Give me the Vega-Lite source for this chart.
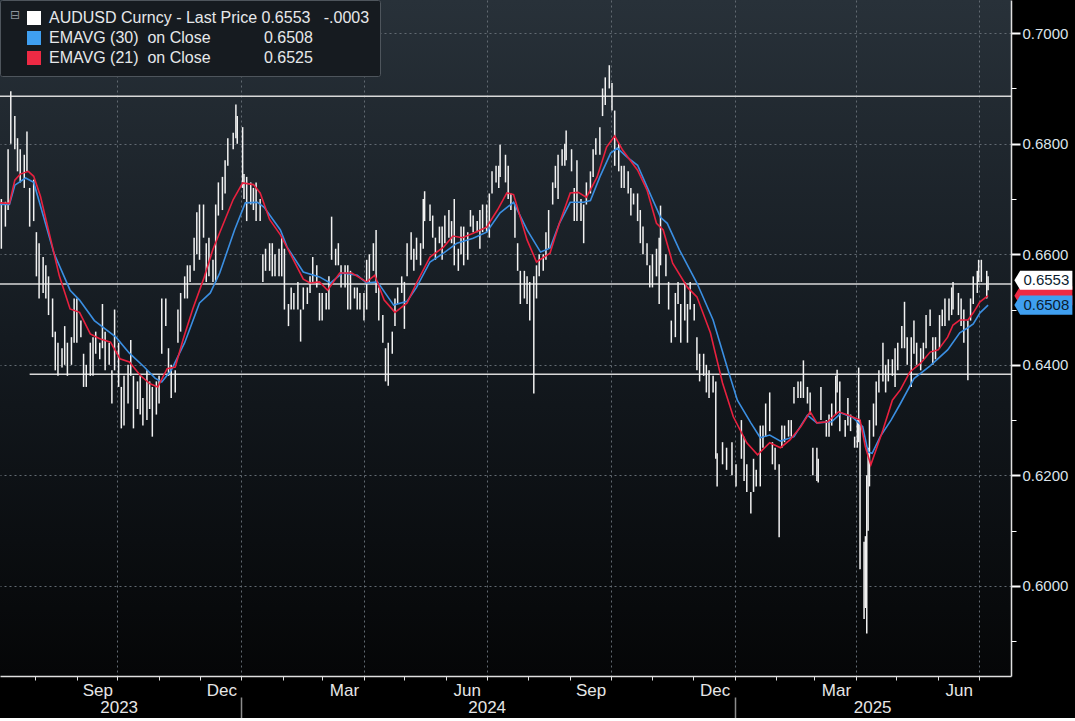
{
"$schema":"https://vega.github.io/schema/vega-lite/v6.json",
"width":1011,"height":676,
"autosize":{"type":"none"},
"padding":{"left":0,"top":0,"right":64,"bottom":42},
"background":"#000000",
"config":{
 "view":{"stroke":null,"fill":{"gradient":"linear","x1":0,"y1":0,"x2":0,"y2":1,"stops":[{"offset":0,"color":"#283139"},{"offset":0.5,"color":"#141a20"},{"offset":1,"color":"#050607"}]}}
},
"datasets":{
"levels":[{"v":0.6886,"a":"2023-07-06","b":"2025-07-25"},{"v":0.6546,"a":"2023-07-06","b":"2025-07-25"},{"v":0.6383,"a":"2023-07-28","b":"2025-07-25"}],
"tags":[{"s":"EMAVG (21)","v":0.6525},{"s":"AUDUSD Curncy","v":0.6553},{"s":"EMAVG (30)","v":0.6508}],
"bars":[
{"d":"2023-07-07","h":0.6700,"l":0.6610},{"d":"2023-07-10","h":0.6695,"l":0.6650},{"d":"2023-07-12","h":0.6790,"l":0.6680},{"d":"2023-07-14","h":0.6895,"l":0.6800},
{"d":"2023-07-17","h":0.6850,"l":0.6790},{"d":"2023-07-19","h":0.6810,"l":0.6750},{"d":"2023-07-21","h":0.6790,"l":0.6730},{"d":"2023-07-24","h":0.6780,"l":0.6720},
{"d":"2023-07-26","h":0.6822,"l":0.6750},{"d":"2023-07-28","h":0.6720,"l":0.6650},{"d":"2023-07-31","h":0.6735,"l":0.6660},{"d":"2023-08-02","h":0.6640,"l":0.6560},
{"d":"2023-08-04","h":0.6620,"l":0.6520},{"d":"2023-08-07","h":0.6595,"l":0.6530},{"d":"2023-08-09","h":0.6580,"l":0.6520},{"d":"2023-08-11","h":0.6560,"l":0.6490},
{"d":"2023-08-14","h":0.6520,"l":0.6450},{"d":"2023-08-16","h":0.6460,"l":0.6390},{"d":"2023-08-18","h":0.6440,"l":0.6380},{"d":"2023-08-21","h":0.6430,"l":0.6395},
{"d":"2023-08-23","h":0.6470,"l":0.6400},{"d":"2023-08-25","h":0.6440,"l":0.6380},{"d":"2023-08-28","h":0.6450,"l":0.6400},{"d":"2023-08-30","h":0.6520,"l":0.6440},
{"d":"2023-09-01","h":0.6520,"l":0.6440},{"d":"2023-09-04","h":0.6480,"l":0.6450},{"d":"2023-09-06","h":0.6420,"l":0.6360},{"d":"2023-09-08","h":0.6400,"l":0.6360},
{"d":"2023-09-11","h":0.6440,"l":0.6380},{"d":"2023-09-13","h":0.6450,"l":0.6380},{"d":"2023-09-15","h":0.6460,"l":0.6420},{"d":"2023-09-18","h":0.6440,"l":0.6410},
{"d":"2023-09-20","h":0.6510,"l":0.6430},{"d":"2023-09-22","h":0.6460,"l":0.6390},{"d":"2023-09-25","h":0.6440,"l":0.6400},{"d":"2023-09-27","h":0.6390,"l":0.6330},
{"d":"2023-09-29","h":0.6500,"l":0.6390},{"d":"2023-10-02","h":0.6440,"l":0.6360},{"d":"2023-10-04","h":0.6360,"l":0.6285},{"d":"2023-10-06","h":0.6380,"l":0.6290},
{"d":"2023-10-09","h":0.6400,"l":0.6330},{"d":"2023-10-11","h":0.6445,"l":0.6380},{"d":"2023-10-13","h":0.6380,"l":0.6285},{"d":"2023-10-16","h":0.6370,"l":0.6320},
{"d":"2023-10-18","h":0.6380,"l":0.6310},{"d":"2023-10-20","h":0.6340,"l":0.6290},{"d":"2023-10-23","h":0.6390,"l":0.6300},{"d":"2023-10-25","h":0.6370,"l":0.6320},
{"d":"2023-10-27","h":0.6360,"l":0.6270},{"d":"2023-10-30","h":0.6370,"l":0.6310},{"d":"2023-11-01","h":0.6380,"l":0.6330},{"d":"2023-11-03","h":0.6520,"l":0.6420},
{"d":"2023-11-06","h":0.6520,"l":0.6470},{"d":"2023-11-08","h":0.6430,"l":0.6380},{"d":"2023-11-10","h":0.6400,"l":0.6340},{"d":"2023-11-13","h":0.6390,"l":0.6350},
{"d":"2023-11-15","h":0.6500,"l":0.6440},{"d":"2023-11-17","h":0.6530,"l":0.6460},{"d":"2023-11-20","h":0.6560,"l":0.6520},{"d":"2023-11-22","h":0.6580,"l":0.6520},
{"d":"2023-11-24","h":0.6580,"l":0.6550},{"d":"2023-11-27","h":0.6630,"l":0.6570},{"d":"2023-11-29","h":0.6676,"l":0.6600},{"d":"2023-12-01","h":0.6690,"l":0.6590},
{"d":"2023-12-04","h":0.6690,"l":0.6630},{"d":"2023-12-06","h":0.6620,"l":0.6550},{"d":"2023-12-08","h":0.6630,"l":0.6560},{"d":"2023-12-11","h":0.6590,"l":0.6550},
{"d":"2023-12-13","h":0.6690,"l":0.6550},{"d":"2023-12-15","h":0.6730,"l":0.6670},{"d":"2023-12-18","h":0.6740,"l":0.6680},{"d":"2023-12-20","h":0.6770,"l":0.6710},
{"d":"2023-12-22","h":0.6810,"l":0.6760},{"d":"2023-12-26","h":0.6820,"l":0.6790},{"d":"2023-12-28","h":0.6871,"l":0.6810},{"d":"2023-12-29","h":0.6850,"l":0.6800},
{"d":"2024-01-02","h":0.6830,"l":0.6720},{"d":"2024-01-03","h":0.6745,"l":0.6700},{"d":"2024-01-05","h":0.6740,"l":0.6660},{"d":"2024-01-08","h":0.6730,"l":0.6690},
{"d":"2024-01-10","h":0.6720,"l":0.6680},{"d":"2024-01-12","h":0.6730,"l":0.6660},{"d":"2024-01-15","h":0.6700,"l":0.6660},{"d":"2024-01-17","h":0.6600,"l":0.6550},
{"d":"2024-01-19","h":0.6610,"l":0.6570},{"d":"2024-01-22","h":0.6620,"l":0.6570},{"d":"2024-01-24","h":0.6620,"l":0.6560},{"d":"2024-01-26","h":0.6600,"l":0.6560},
{"d":"2024-01-29","h":0.6610,"l":0.6560},{"d":"2024-01-31","h":0.6630,"l":0.6560},{"d":"2024-02-02","h":0.6610,"l":0.6500},{"d":"2024-02-05","h":0.6510,"l":0.6470},
{"d":"2024-02-07","h":0.6540,"l":0.6500},{"d":"2024-02-09","h":0.6530,"l":0.6500},{"d":"2024-02-12","h":0.6550,"l":0.6500},{"d":"2024-02-14","h":0.6500,"l":0.6442},
{"d":"2024-02-16","h":0.6540,"l":0.6500},{"d":"2024-02-19","h":0.6540,"l":0.6510},{"d":"2024-02-21","h":0.6560,"l":0.6530},{"d":"2024-02-23","h":0.6595,"l":0.6550},
{"d":"2024-02-26","h":0.6580,"l":0.6540},{"d":"2024-02-28","h":0.6530,"l":0.6480},{"d":"2024-03-01","h":0.6530,"l":0.6480},{"d":"2024-03-04","h":0.6530,"l":0.6500},
{"d":"2024-03-06","h":0.6560,"l":0.6500},{"d":"2024-03-08","h":0.6668,"l":0.6590},{"d":"2024-03-11","h":0.6610,"l":0.6580},{"d":"2024-03-13","h":0.6620,"l":0.6580},
{"d":"2024-03-15","h":0.6580,"l":0.6540},{"d":"2024-03-18","h":0.6580,"l":0.6540},{"d":"2024-03-20","h":0.6580,"l":0.6500},{"d":"2024-03-22","h":0.6570,"l":0.6500},
{"d":"2024-03-25","h":0.6540,"l":0.6520},{"d":"2024-03-27","h":0.6540,"l":0.6500},{"d":"2024-03-29","h":0.6530,"l":0.6500},{"d":"2024-04-01","h":0.6530,"l":0.6480},
{"d":"2024-04-03","h":0.6590,"l":0.6500},{"d":"2024-04-05","h":0.6600,"l":0.6550},{"d":"2024-04-08","h":0.6620,"l":0.6570},{"d":"2024-04-10","h":0.6644,"l":0.6530},
{"d":"2024-04-12","h":0.6540,"l":0.6480},{"d":"2024-04-15","h":0.6490,"l":0.6440},{"d":"2024-04-17","h":0.6430,"l":0.6370},{"d":"2024-04-19","h":0.6440,"l":0.6362},
{"d":"2024-04-22","h":0.6460,"l":0.6420},{"d":"2024-04-24","h":0.6520,"l":0.6470},{"d":"2024-04-26","h":0.6540,"l":0.6510},{"d":"2024-04-29","h":0.6560,"l":0.6530},
{"d":"2024-05-01","h":0.6550,"l":0.6465},{"d":"2024-05-03","h":0.6620,"l":0.6560},{"d":"2024-05-06","h":0.6640,"l":0.6590},{"d":"2024-05-08","h":0.6610,"l":0.6570},
{"d":"2024-05-10","h":0.6630,"l":0.6590},{"d":"2024-05-13","h":0.6620,"l":0.6580},{"d":"2024-05-15","h":0.6700,"l":0.6610},{"d":"2024-05-16","h":0.6714,"l":0.6660},
{"d":"2024-05-20","h":0.6690,"l":0.6660},{"d":"2024-05-22","h":0.6670,"l":0.6630},{"d":"2024-05-24","h":0.6630,"l":0.6590},{"d":"2024-05-27","h":0.6650,"l":0.6620},
{"d":"2024-05-29","h":0.6650,"l":0.6590},{"d":"2024-05-31","h":0.6670,"l":0.6620},{"d":"2024-06-03","h":0.6680,"l":0.6630},{"d":"2024-06-05","h":0.6660,"l":0.6620},
{"d":"2024-06-07","h":0.6700,"l":0.6580},{"d":"2024-06-10","h":0.6610,"l":0.6570},{"d":"2024-06-12","h":0.6650,"l":0.6600},{"d":"2024-06-14","h":0.6650,"l":0.6580},
{"d":"2024-06-17","h":0.6640,"l":0.6590},{"d":"2024-06-19","h":0.6680,"l":0.6650},{"d":"2024-06-21","h":0.6670,"l":0.6640},{"d":"2024-06-24","h":0.6660,"l":0.6640},
{"d":"2024-06-26","h":0.6680,"l":0.6610},{"d":"2024-06-28","h":0.6690,"l":0.6640},{"d":"2024-07-01","h":0.6690,"l":0.6640},{"d":"2024-07-03","h":0.6710,"l":0.6630},
{"d":"2024-07-05","h":0.6750,"l":0.6710},{"d":"2024-07-08","h":0.6760,"l":0.6730},{"d":"2024-07-10","h":0.6760,"l":0.6720},{"d":"2024-07-11","h":0.6798,"l":0.6740},
{"d":"2024-07-15","h":0.6780,"l":0.6730},{"d":"2024-07-17","h":0.6760,"l":0.6700},{"d":"2024-07-19","h":0.6710,"l":0.6680},{"d":"2024-07-22","h":0.6690,"l":0.6630},
{"d":"2024-07-24","h":0.6620,"l":0.6570},{"d":"2024-07-26","h":0.6570,"l":0.6510},{"d":"2024-07-29","h":0.6570,"l":0.6520},{"d":"2024-07-31","h":0.6560,"l":0.6510},
{"d":"2024-08-02","h":0.6550,"l":0.6480},{"d":"2024-08-05","h":0.6560,"l":0.6348},{"d":"2024-08-07","h":0.6580,"l":0.6520},{"d":"2024-08-09","h":0.6600,"l":0.6560},
{"d":"2024-08-12","h":0.6600,"l":0.6570},{"d":"2024-08-14","h":0.6640,"l":0.6590},{"d":"2024-08-16","h":0.6680,"l":0.6610},{"d":"2024-08-19","h":0.6730,"l":0.6690},
{"d":"2024-08-21","h":0.6760,"l":0.6720},{"d":"2024-08-23","h":0.6780,"l":0.6700},{"d":"2024-08-26","h":0.6790,"l":0.6760},{"d":"2024-08-28","h":0.6800,"l":0.6760},
{"d":"2024-08-29","h":0.6824,"l":0.6770},{"d":"2024-09-02","h":0.6790,"l":0.6750},{"d":"2024-09-04","h":0.6720,"l":0.6660},{"d":"2024-09-06","h":0.6770,"l":0.6660},
{"d":"2024-09-09","h":0.6700,"l":0.6660},{"d":"2024-09-11","h":0.6690,"l":0.6620},{"d":"2024-09-13","h":0.6730,"l":0.6690},{"d":"2024-09-16","h":0.6750,"l":0.6710},
{"d":"2024-09-18","h":0.6790,"l":0.6740},{"d":"2024-09-20","h":0.6810,"l":0.6780},{"d":"2024-09-23","h":0.6830,"l":0.6780},{"d":"2024-09-25","h":0.6900,"l":0.6850},
{"d":"2024-09-27","h":0.6920,"l":0.6870},{"d":"2024-09-30","h":0.6942,"l":0.6900},{"d":"2024-10-02","h":0.6910,"l":0.6860},{"d":"2024-10-04","h":0.6860,"l":0.6760},
{"d":"2024-10-07","h":0.6800,"l":0.6750},{"d":"2024-10-09","h":0.6760,"l":0.6720},{"d":"2024-10-11","h":0.6760,"l":0.6720},{"d":"2024-10-14","h":0.6750,"l":0.6710},
{"d":"2024-10-16","h":0.6720,"l":0.6670},{"d":"2024-10-18","h":0.6710,"l":0.6690},{"d":"2024-10-21","h":0.6710,"l":0.6660},{"d":"2024-10-23","h":0.6680,"l":0.6620},
{"d":"2024-10-25","h":0.6650,"l":0.6600},{"d":"2024-10-28","h":0.6620,"l":0.6580},{"d":"2024-10-30","h":0.6580,"l":0.6540},{"d":"2024-11-01","h":0.6600,"l":0.6540},
{"d":"2024-11-04","h":0.6610,"l":0.6560},{"d":"2024-11-06","h":0.6630,"l":0.6510},{"d":"2024-11-07","h":0.6688,"l":0.6580},{"d":"2024-11-11","h":0.6600,"l":0.6560},
{"d":"2024-11-13","h":0.6550,"l":0.6500},{"d":"2024-11-15","h":0.6480,"l":0.6440},{"d":"2024-11-18","h":0.6530,"l":0.6450},{"d":"2024-11-20","h":0.6550,"l":0.6510},
{"d":"2024-11-22","h":0.6510,"l":0.6440},{"d":"2024-11-25","h":0.6550,"l":0.6480},{"d":"2024-11-27","h":0.6510,"l":0.6440},{"d":"2024-11-29","h":0.6550,"l":0.6500},
{"d":"2024-12-02","h":0.6510,"l":0.6480},{"d":"2024-12-04","h":0.6450,"l":0.6390},{"d":"2024-12-06","h":0.6420,"l":0.6370},{"d":"2024-12-09","h":0.6420,"l":0.6380},
{"d":"2024-12-11","h":0.6400,"l":0.6350},{"d":"2024-12-13","h":0.6390,"l":0.6340},{"d":"2024-12-16","h":0.6380,"l":0.6350},{"d":"2024-12-18","h":0.6370,"l":0.6230},
{"d":"2024-12-19","h":0.6240,"l":0.6180},{"d":"2024-12-23","h":0.6260,"l":0.6220},{"d":"2024-12-26","h":0.6250,"l":0.6210},{"d":"2024-12-30","h":0.6260,"l":0.6200},
{"d":"2025-01-02","h":0.6220,"l":0.6180},{"d":"2025-01-06","h":0.6300,"l":0.6230},{"d":"2025-01-08","h":0.6270,"l":0.6190},{"d":"2025-01-10","h":0.6220,"l":0.6170},
{"d":"2025-01-13","h":0.6170,"l":0.6131},{"d":"2025-01-15","h":0.6230,"l":0.6170},{"d":"2025-01-17","h":0.6210,"l":0.6180},{"d":"2025-01-20","h":0.6290,"l":0.6180},
{"d":"2025-01-22","h":0.6290,"l":0.6250},{"d":"2025-01-24","h":0.6330,"l":0.6270},{"d":"2025-01-27","h":0.6350,"l":0.6280},{"d":"2025-01-29","h":0.6260,"l":0.6220},
{"d":"2025-01-31","h":0.6250,"l":0.6210},{"d":"2025-02-03","h":0.6220,"l":0.6088},{"d":"2025-02-05","h":0.6290,"l":0.6250},{"d":"2025-02-07","h":0.6290,"l":0.6260},
{"d":"2025-02-10","h":0.6300,"l":0.6270},{"d":"2025-02-12","h":0.6300,"l":0.6270},{"d":"2025-02-14","h":0.6360,"l":0.6330},{"d":"2025-02-17","h":0.6370,"l":0.6340},
{"d":"2025-02-19","h":0.6370,"l":0.6340},{"d":"2025-02-21","h":0.6408,"l":0.6340},{"d":"2025-02-24","h":0.6360,"l":0.6330},{"d":"2025-02-26","h":0.6350,"l":0.6310},
{"d":"2025-02-28","h":0.6250,"l":0.6200},{"d":"2025-03-03","h":0.6250,"l":0.6190},{"d":"2025-03-04","h":0.6230,"l":0.6187},{"d":"2025-03-06","h":0.6360,"l":0.6300},
{"d":"2025-03-10","h":0.6300,"l":0.6270},{"d":"2025-03-12","h":0.6310,"l":0.6270},{"d":"2025-03-14","h":0.6330,"l":0.6290},{"d":"2025-03-17","h":0.6380,"l":0.6310},
{"d":"2025-03-18","h":0.6391,"l":0.6350},{"d":"2025-03-20","h":0.6370,"l":0.6280},{"d":"2025-03-24","h":0.6300,"l":0.6270},{"d":"2025-03-26","h":0.6340,"l":0.6290},
{"d":"2025-03-28","h":0.6310,"l":0.6280},{"d":"2025-03-31","h":0.6270,"l":0.6250},{"d":"2025-04-02","h":0.6300,"l":0.6250},{"d":"2025-04-03","h":0.6395,"l":0.6260},
{"d":"2025-04-04","h":0.6300,"l":0.6030},{"d":"2025-04-07","h":0.6080,"l":0.5940},{"d":"2025-04-08","h":0.6090,"l":0.5960},{"d":"2025-04-09","h":0.6200,"l":0.5914},
{"d":"2025-04-10","h":0.6250,"l":0.6100},{"d":"2025-04-11","h":0.6300,"l":0.6180},{"d":"2025-04-14","h":0.6330,"l":0.6270},{"d":"2025-04-16","h":0.6370,"l":0.6290},
{"d":"2025-04-18","h":0.6390,"l":0.6350},{"d":"2025-04-21","h":0.6440,"l":0.6370},{"d":"2025-04-23","h":0.6400,"l":0.6350},{"d":"2025-04-25","h":0.6410,"l":0.6370},
{"d":"2025-04-28","h":0.6410,"l":0.6380},{"d":"2025-04-30","h":0.6430,"l":0.6360},{"d":"2025-05-02","h":0.6440,"l":0.6390},{"d":"2025-05-05","h":0.6470,"l":0.6430},
{"d":"2025-05-07","h":0.6514,"l":0.6430},{"d":"2025-05-09","h":0.6450,"l":0.6400},{"d":"2025-05-12","h":0.6450,"l":0.6360},{"d":"2025-05-14","h":0.6480,"l":0.6420},
{"d":"2025-05-16","h":0.6440,"l":0.6400},{"d":"2025-05-19","h":0.6430,"l":0.6390},{"d":"2025-05-21","h":0.6440,"l":0.6410},{"d":"2025-05-23","h":0.6490,"l":0.6430},
{"d":"2025-05-26","h":0.6500,"l":0.6470},{"d":"2025-05-28","h":0.6450,"l":0.6400},{"d":"2025-05-30","h":0.6450,"l":0.6410},{"d":"2025-06-02","h":0.6490,"l":0.6430},
{"d":"2025-06-04","h":0.6500,"l":0.6470},{"d":"2025-06-06","h":0.6520,"l":0.6470},{"d":"2025-06-09","h":0.6520,"l":0.6480},{"d":"2025-06-11","h":0.6540,"l":0.6490},
{"d":"2025-06-12","h":0.6550,"l":0.6500},{"d":"2025-06-16","h":0.6530,"l":0.6490},{"d":"2025-06-18","h":0.6520,"l":0.6470},{"d":"2025-06-20","h":0.6500,"l":0.6440},
{"d":"2025-06-23","h":0.6480,"l":0.6372},{"d":"2025-06-25","h":0.6520,"l":0.6480},{"d":"2025-06-27","h":0.6560,"l":0.6510},{"d":"2025-06-30","h":0.6570,"l":0.6530},
{"d":"2025-07-01","h":0.6590,"l":0.6550},{"d":"2025-07-03","h":0.6590,"l":0.6550},{"d":"2025-07-07","h":0.6570,"l":0.6520},{"d":"2025-07-08","h":0.6560,"l":0.6535}
],
"ema":[
{"s":"EMAVG (30)","d":"2023-07-06","v":0.6690},{"s":"EMAVG (30)","d":"2023-07-13","v":0.6690},{"s":"EMAVG (30)","d":"2023-07-17","v":0.6725},{"s":"EMAVG (30)","d":"2023-07-25","v":0.6738},
{"s":"EMAVG (30)","d":"2023-07-31","v":0.6730},{"s":"EMAVG (30)","d":"2023-08-08","v":0.6662},{"s":"EMAVG (30)","d":"2023-08-15","v":0.6602},{"s":"EMAVG (30)","d":"2023-08-27","v":0.6535},
{"s":"EMAVG (30)","d":"2023-09-03","v":0.6517},{"s":"EMAVG (30)","d":"2023-09-14","v":0.6480},{"s":"EMAVG (30)","d":"2023-09-30","v":0.6450},{"s":"EMAVG (30)","d":"2023-10-10","v":0.6421},
{"s":"EMAVG (30)","d":"2023-10-21","v":0.6396},{"s":"EMAVG (30)","d":"2023-10-29","v":0.6376},{"s":"EMAVG (30)","d":"2023-11-03","v":0.6369},{"s":"EMAVG (30)","d":"2023-11-10","v":0.6390},
{"s":"EMAVG (30)","d":"2023-11-20","v":0.6440},{"s":"EMAVG (30)","d":"2023-12-01","v":0.6512},{"s":"EMAVG (30)","d":"2023-12-09","v":0.6530},{"s":"EMAVG (30)","d":"2023-12-16","v":0.6566},
{"s":"EMAVG (30)","d":"2023-12-27","v":0.6644},{"s":"EMAVG (30)","d":"2024-01-04","v":0.6693},{"s":"EMAVG (30)","d":"2024-01-13","v":0.6694},{"s":"EMAVG (30)","d":"2024-01-18","v":0.6685},
{"s":"EMAVG (30)","d":"2024-01-30","v":0.6644},{"s":"EMAVG (30)","d":"2024-02-04","v":0.6613},{"s":"EMAVG (30)","d":"2024-02-16","v":0.6568},{"s":"EMAVG (30)","d":"2024-02-28","v":0.6559},
{"s":"EMAVG (30)","d":"2024-03-07","v":0.6548},{"s":"EMAVG (30)","d":"2024-03-16","v":0.6566},{"s":"EMAVG (30)","d":"2024-03-27","v":0.6562},{"s":"EMAVG (30)","d":"2024-04-03","v":0.6548},
{"s":"EMAVG (30)","d":"2024-04-11","v":0.6550},{"s":"EMAVG (30)","d":"2024-04-23","v":0.6508},{"s":"EMAVG (30)","d":"2024-05-03","v":0.6515},{"s":"EMAVG (30)","d":"2024-05-10","v":0.6540},
{"s":"EMAVG (30)","d":"2024-05-20","v":0.6586},{"s":"EMAVG (30)","d":"2024-05-30","v":0.6602},{"s":"EMAVG (30)","d":"2024-06-09","v":0.6620},{"s":"EMAVG (30)","d":"2024-06-21","v":0.6629},
{"s":"EMAVG (30)","d":"2024-07-01","v":0.6640},{"s":"EMAVG (30)","d":"2024-07-11","v":0.6675},{"s":"EMAVG (30)","d":"2024-07-21","v":0.6694},{"s":"EMAVG (30)","d":"2024-07-31","v":0.6644},
{"s":"EMAVG (30)","d":"2024-08-10","v":0.6604},{"s":"EMAVG (30)","d":"2024-08-17","v":0.6611},{"s":"EMAVG (30)","d":"2024-08-24","v":0.6656},{"s":"EMAVG (30)","d":"2024-09-01","v":0.6694},
{"s":"EMAVG (30)","d":"2024-09-11","v":0.6694},{"s":"EMAVG (30)","d":"2024-09-16","v":0.6697},{"s":"EMAVG (30)","d":"2024-09-23","v":0.6740},{"s":"EMAVG (30)","d":"2024-10-01","v":0.6783},
{"s":"EMAVG (30)","d":"2024-10-06","v":0.6792},{"s":"EMAVG (30)","d":"2024-10-13","v":0.6776},{"s":"EMAVG (30)","d":"2024-10-21","v":0.6761},{"s":"EMAVG (30)","d":"2024-10-28","v":0.6722},
{"s":"EMAVG (30)","d":"2024-11-07","v":0.6667},{"s":"EMAVG (30)","d":"2024-11-12","v":0.6656},{"s":"EMAVG (30)","d":"2024-11-21","v":0.6608},{"s":"EMAVG (30)","d":"2024-12-04","v":0.6548},
{"s":"EMAVG (30)","d":"2024-12-16","v":0.6481},{"s":"EMAVG (30)","d":"2024-12-27","v":0.6391},{"s":"EMAVG (30)","d":"2025-01-03","v":0.6336},{"s":"EMAVG (30)","d":"2025-01-13","v":0.6295},
{"s":"EMAVG (30)","d":"2025-01-20","v":0.6268},{"s":"EMAVG (30)","d":"2025-01-27","v":0.6273},{"s":"EMAVG (30)","d":"2025-02-04","v":0.6262},{"s":"EMAVG (30)","d":"2025-02-14","v":0.6270},
{"s":"EMAVG (30)","d":"2025-02-24","v":0.6309},{"s":"EMAVG (30)","d":"2025-03-03","v":0.6295},{"s":"EMAVG (30)","d":"2025-03-14","v":0.6297},{"s":"EMAVG (30)","d":"2025-03-21","v":0.6313},
{"s":"EMAVG (30)","d":"2025-03-30","v":0.6304},{"s":"EMAVG (30)","d":"2025-04-06","v":0.6288},{"s":"EMAVG (30)","d":"2025-04-10","v":0.6242},{"s":"EMAVG (30)","d":"2025-04-13","v":0.6240},
{"s":"EMAVG (30)","d":"2025-04-19","v":0.6270},{"s":"EMAVG (30)","d":"2025-04-27","v":0.6300},{"s":"EMAVG (30)","d":"2025-05-04","v":0.6330},{"s":"EMAVG (30)","d":"2025-05-14","v":0.6375},
{"s":"EMAVG (30)","d":"2025-05-26","v":0.6398},{"s":"EMAVG (30)","d":"2025-06-08","v":0.6427},{"s":"EMAVG (30)","d":"2025-06-17","v":0.6458},{"s":"EMAVG (30)","d":"2025-06-23","v":0.6467},
{"s":"EMAVG (30)","d":"2025-06-27","v":0.6474},{"s":"EMAVG (30)","d":"2025-07-02","v":0.6494},{"s":"EMAVG (30)","d":"2025-07-08","v":0.6508},
{"s":"EMAVG (21)","d":"2023-07-06","v":0.6693},{"s":"EMAVG (21)","d":"2023-07-13","v":0.6692},{"s":"EMAVG (21)","d":"2023-07-17","v":0.6734},{"s":"EMAVG (21)","d":"2023-07-21","v":0.6745},
{"s":"EMAVG (21)","d":"2023-07-27","v":0.6750},{"s":"EMAVG (21)","d":"2023-07-31","v":0.6741},{"s":"EMAVG (21)","d":"2023-08-05","v":0.6705},{"s":"EMAVG (21)","d":"2023-08-12","v":0.6633},
{"s":"EMAVG (21)","d":"2023-08-19","v":0.6561},{"s":"EMAVG (21)","d":"2023-08-27","v":0.6501},{"s":"EMAVG (21)","d":"2023-09-03","v":0.6495},{"s":"EMAVG (21)","d":"2023-09-11","v":0.6456},
{"s":"EMAVG (21)","d":"2023-09-18","v":0.6447},{"s":"EMAVG (21)","d":"2023-09-26","v":0.6441},{"s":"EMAVG (21)","d":"2023-10-03","v":0.6411},{"s":"EMAVG (21)","d":"2023-10-10","v":0.6405},
{"s":"EMAVG (21)","d":"2023-10-18","v":0.6381},{"s":"EMAVG (21)","d":"2023-10-25","v":0.6366},{"s":"EMAVG (21)","d":"2023-10-31","v":0.6360},{"s":"EMAVG (21)","d":"2023-11-07","v":0.6393},
{"s":"EMAVG (21)","d":"2023-11-13","v":0.6396},{"s":"EMAVG (21)","d":"2023-11-19","v":0.6447},{"s":"EMAVG (21)","d":"2023-11-26","v":0.6501},{"s":"EMAVG (21)","d":"2023-12-04","v":0.6555},
{"s":"EMAVG (21)","d":"2023-12-11","v":0.6609},{"s":"EMAVG (21)","d":"2023-12-18","v":0.6651},{"s":"EMAVG (21)","d":"2023-12-26","v":0.6699},{"s":"EMAVG (21)","d":"2024-01-02","v":0.6729},
{"s":"EMAVG (21)","d":"2024-01-10","v":0.6726},{"s":"EMAVG (21)","d":"2024-01-15","v":0.6711},{"s":"EMAVG (21)","d":"2024-01-22","v":0.6663},{"s":"EMAVG (21)","d":"2024-01-30","v":0.6635},
{"s":"EMAVG (21)","d":"2024-02-04","v":0.6612},{"s":"EMAVG (21)","d":"2024-02-16","v":0.6555},{"s":"EMAVG (21)","d":"2024-02-21","v":0.6548},{"s":"EMAVG (21)","d":"2024-02-28","v":0.6550},
{"s":"EMAVG (21)","d":"2024-03-05","v":0.6535},{"s":"EMAVG (21)","d":"2024-03-14","v":0.6566},{"s":"EMAVG (21)","d":"2024-03-23","v":0.6566},{"s":"EMAVG (21)","d":"2024-04-03","v":0.6550},
{"s":"EMAVG (21)","d":"2024-04-09","v":0.6562},{"s":"EMAVG (21)","d":"2024-04-16","v":0.6517},{"s":"EMAVG (21)","d":"2024-04-24","v":0.6495},{"s":"EMAVG (21)","d":"2024-05-03","v":0.6512},
{"s":"EMAVG (21)","d":"2024-05-10","v":0.6548},{"s":"EMAVG (21)","d":"2024-05-20","v":0.6595},{"s":"EMAVG (21)","d":"2024-05-30","v":0.6613},{"s":"EMAVG (21)","d":"2024-06-06","v":0.6633},
{"s":"EMAVG (21)","d":"2024-06-13","v":0.6630},{"s":"EMAVG (21)","d":"2024-06-21","v":0.6638},{"s":"EMAVG (21)","d":"2024-07-01","v":0.6649},{"s":"EMAVG (21)","d":"2024-07-09","v":0.6680},
{"s":"EMAVG (21)","d":"2024-07-16","v":0.6711},{"s":"EMAVG (21)","d":"2024-07-21","v":0.6708},{"s":"EMAVG (21)","d":"2024-07-31","v":0.6626},{"s":"EMAVG (21)","d":"2024-08-07","v":0.6586},
{"s":"EMAVG (21)","d":"2024-08-17","v":0.6602},{"s":"EMAVG (21)","d":"2024-08-24","v":0.6656},{"s":"EMAVG (21)","d":"2024-09-01","v":0.6711},{"s":"EMAVG (21)","d":"2024-09-07","v":0.6712},
{"s":"EMAVG (21)","d":"2024-09-13","v":0.6703},{"s":"EMAVG (21)","d":"2024-09-21","v":0.6740},{"s":"EMAVG (21)","d":"2024-09-28","v":0.6794},{"s":"EMAVG (21)","d":"2024-10-04","v":0.6814},
{"s":"EMAVG (21)","d":"2024-10-10","v":0.6788},{"s":"EMAVG (21)","d":"2024-10-21","v":0.6752},{"s":"EMAVG (21)","d":"2024-10-28","v":0.6716},{"s":"EMAVG (21)","d":"2024-11-04","v":0.6656},
{"s":"EMAVG (21)","d":"2024-11-09","v":0.6644},{"s":"EMAVG (21)","d":"2024-11-16","v":0.6584},{"s":"EMAVG (21)","d":"2024-11-27","v":0.6540},{"s":"EMAVG (21)","d":"2024-12-04","v":0.6523},
{"s":"EMAVG (21)","d":"2024-12-14","v":0.6458},{"s":"EMAVG (21)","d":"2024-12-23","v":0.6367},{"s":"EMAVG (21)","d":"2024-12-31","v":0.6306},{"s":"EMAVG (21)","d":"2025-01-10","v":0.6259},
{"s":"EMAVG (21)","d":"2025-01-18","v":0.6237},{"s":"EMAVG (21)","d":"2025-01-27","v":0.6259},{"s":"EMAVG (21)","d":"2025-02-04","v":0.6250},{"s":"EMAVG (21)","d":"2025-02-11","v":0.6264},
{"s":"EMAVG (21)","d":"2025-02-19","v":0.6288},{"s":"EMAVG (21)","d":"2025-02-26","v":0.6315},{"s":"EMAVG (21)","d":"2025-03-03","v":0.6295},{"s":"EMAVG (21)","d":"2025-03-11","v":0.6297},
{"s":"EMAVG (21)","d":"2025-03-19","v":0.6315},{"s":"EMAVG (21)","d":"2025-03-26","v":0.6309},{"s":"EMAVG (21)","d":"2025-04-04","v":0.6300},{"s":"EMAVG (21)","d":"2025-04-08","v":0.6251},
{"s":"EMAVG (21)","d":"2025-04-12","v":0.6219},{"s":"EMAVG (21)","d":"2025-04-15","v":0.6240},{"s":"EMAVG (21)","d":"2025-04-21","v":0.6282},{"s":"EMAVG (21)","d":"2025-04-28","v":0.6336},
{"s":"EMAVG (21)","d":"2025-05-04","v":0.6355},{"s":"EMAVG (21)","d":"2025-05-11","v":0.6387},{"s":"EMAVG (21)","d":"2025-05-19","v":0.6403},{"s":"EMAVG (21)","d":"2025-05-26","v":0.6423},
{"s":"EMAVG (21)","d":"2025-06-01","v":0.6427},{"s":"EMAVG (21)","d":"2025-06-08","v":0.6450},{"s":"EMAVG (21)","d":"2025-06-12","v":0.6472},{"s":"EMAVG (21)","d":"2025-06-17","v":0.6481},
{"s":"EMAVG (21)","d":"2025-06-23","v":0.6481},{"s":"EMAVG (21)","d":"2025-06-27","v":0.6494},{"s":"EMAVG (21)","d":"2025-07-02","v":0.6514},{"s":"EMAVG (21)","d":"2025-07-08","v":0.6525}
]
},
"layer":[
{"data":{"name":"levels"},
 "mark":{"type":"rule","color":"#d9d9d9","strokeWidth":1.5},
 "encoding":{
  "x":{"field":"a","type":"temporal","scale":{"type":"utc","domain":[{"year":2023,"month":7,"date":6,"utc":true},{"year":2025,"month":7,"date":25,"utc":true}]},
   "axis":{"orient":"bottom","title":null,"values":[{"year":2024,"month":1,"date":1,"utc":true},{"year":2025,"month":1,"date":1,"utc":true}],"offset":21,"domain":false,"labels":false,"ticks":true,"tickSize":21,"tickColor":"#8c8c8c","tickWidth":1.5,"grid":false}},
  "x2":{"field":"b"},
  "y":{"field":"v","type":"quantitative","scale":{"domain":[0.5837,0.706],"nice":false,"zero":false},"axis":null}
 }},
{"data":{"name":"bars"},
 "mark":{"type":"rule","color":"#f2f2f2","strokeWidth":1.5},
 "encoding":{
  "x":{"field":"d","type":"temporal","scale":{"type":"utc","domain":[{"year":2023,"month":7,"date":6,"utc":true},{"year":2025,"month":7,"date":25,"utc":true}]},
   "axis":{"orient":"bottom","title":null,
    "values":[{"year":2023,"month":8,"date":1,"utc":true},{"year":2023,"month":9,"date":1,"utc":true},{"year":2023,"month":10,"date":1,"utc":true},{"year":2023,"month":11,"date":1,"utc":true},{"year":2023,"month":12,"date":1,"utc":true},
     {"year":2024,"month":1,"date":1,"utc":true},{"year":2024,"month":2,"date":1,"utc":true},{"year":2024,"month":3,"date":1,"utc":true},{"year":2024,"month":4,"date":1,"utc":true},{"year":2024,"month":5,"date":1,"utc":true},{"year":2024,"month":6,"date":1,"utc":true},
     {"year":2024,"month":7,"date":1,"utc":true},{"year":2024,"month":8,"date":1,"utc":true},{"year":2024,"month":9,"date":1,"utc":true},{"year":2024,"month":10,"date":1,"utc":true},{"year":2024,"month":11,"date":1,"utc":true},{"year":2024,"month":12,"date":1,"utc":true},
     {"year":2025,"month":1,"date":1,"utc":true},{"year":2025,"month":2,"date":1,"utc":true},{"year":2025,"month":3,"date":1,"utc":true},{"year":2025,"month":4,"date":1,"utc":true},{"year":2025,"month":5,"date":1,"utc":true},{"year":2025,"month":6,"date":1,"utc":true},{"year":2025,"month":7,"date":1,"utc":true}],
    "labelExpr":"utcmonth(datum.value) % 3 == 0 ? utcFormat(datum.value - 864000000, '%b') : ''",
    "labelOffset":-20,"labelPadding":2,"labelFont":"Liberation Sans Narrow, Liberation Sans, sans-serif","labelFontSize":17,"labelColor":"#e6e6e6",
    "labelOverlap":false,"labelBound":false,"labelFlush":false,
    "ticks":true,"tickSize":4,"tickColor":"#e0e0e0","tickWidth":1,
    "domain":true,"domainColor":"#e0e0e0","domainWidth":1.5,
    "grid":true,"gridColor":"#626a72","gridDash":[2,3],"gridWidth":1,
    "gridOpacity":{"condition":{"test":"utcmonth(datum.value) % 3 == 0","value":1},"value":0}}},
  "y":{"field":"l","type":"quantitative","scale":{"domain":[0.5837,0.706],"nice":false,"zero":false},
   "axis":{"orient":"right","title":null,"values":[0.6,0.62,0.64,0.66,0.68,0.7],"format":".4f",
    "labelFont":"Liberation Sans","labelFontSize":15,"labelColor":"#dce4eb","labelPadding":2,"labelBound":false,"labelOverlap":false,
    "domain":true,"domainColor":"#e0e0e0","domainWidth":1.5,"ticks":true,"tickColor":"#ffffff","tickSize":9,"tickWidth":2,
    "grid":true,"gridColor":"#626a72","gridDash":[2,3],"gridWidth":1}},
  "y2":{"field":"h"}
 }},
{"data":{"name":"ema"},
 "mark":{"type":"line","strokeWidth":1.6,"interpolate":"linear"},
 "encoding":{
  "x":{"field":"d","type":"temporal","scale":{"type":"utc","domain":[{"year":2023,"month":7,"date":6,"utc":true},{"year":2025,"month":7,"date":25,"utc":true}]},
   "axis":{"orient":"bottom","title":null,"values":[{"year":2023,"month":10,"date":2,"utc":true},{"year":2024,"month":7,"date":1,"utc":true},{"year":2025,"month":4,"date":13,"utc":true}],
    "labelExpr":"utcFormat(datum.value, '%Y')","ticks":false,"domain":false,"grid":false,"labelPadding":23,
    "labelFont":"Liberation Sans Narrow, Liberation Sans, sans-serif","labelFontSize":17,"labelColor":"#e6e6e6","labelBound":false,"labelOverlap":false,"labelFlush":false}},
  "y":{"field":"v","type":"quantitative","scale":{"domain":[0.5837,0.706],"nice":false,"zero":false},
   "axis":{"orient":"right","title":null,"values":[0.59,0.61,0.63,0.65,0.67,0.69],"labels":false,"domain":false,"grid":false,"ticks":true,"tickSize":5,"tickColor":"#ffffff","tickWidth":1}},
  "stroke":{"field":"s","type":"nominal","scale":{"domain":["EMAVG (30)","EMAVG (21)"],"range":["#3b8fe2","#e8213f"]},"legend":null}
 }},
{"data":{"name":"tags"},
 "mark":{"type":"point","filled":true,"opacity":1,"shape":"M-1,0L-0.8,-0.33L1,-0.33L1,0.33L-0.8,0.33Z","size":3364,"strokeWidth":0},
 "encoding":{
  "x":{"datum":{"year":2025,"month":8,"date":18,"utc":true},"type":"temporal","scale":{"type":"utc","domain":[{"year":2023,"month":7,"date":6,"utc":true},{"year":2025,"month":7,"date":25,"utc":true}]},"axis":null},
  "y":{"field":"v","type":"quantitative","scale":{"domain":[0.5837,0.706],"nice":false,"zero":false},"axis":null},
  "fill":{"field":"s","type":"nominal","scale":{"domain":["AUDUSD Curncy","EMAVG (30)","EMAVG (21)"],"range":["#ffffff","#3f9ff0","#ee2a44"]},
   "legend":{"orient":"top-left","offset":0,"title":"⊟","titleOrient":"left","titleAnchor":"start","titleFont":"DejaVu Sans","titleFontSize":12,"titleFontWeight":"normal","titleColor":"#8d949b","titlePadding":5,
    "padding":10,"fillColor":"#161b20","strokeColor":"#4e555c","cornerRadius":2,"symbolType":"square","symbolSize":196,"symbolStrokeWidth":0,
    "labelFont":"Liberation Sans","labelFontSize":16,"labelColor":"#e6e8ea","labelOffset":7,"rowPadding":4,"labelLimit":0,
    "labelExpr":"datum.label == 'AUDUSD Curncy' ? 'AUDUSD Curncy - Last Price 0.6553\u00a0\u00a0\u00a0-.0003' : datum.label == 'EMAVG (30)' ? 'EMAVG (30)\u00a0\u00a0on Close\u00a0\u00a0\u00a0\u00a0\u00a0\u00a0\u00a0\u00a0\u00a0\u00a0\u00a0\u00a00.6508' : 'EMAVG (21)\u00a0\u00a0on Close\u00a0\u00a0\u00a0\u00a0\u00a0\u00a0\u00a0\u00a0\u00a0\u00a0\u00a0\u00a00.6525'"}}
 }},
{"data":{"name":"tags"},
 "transform":[{"filter":"datum.s != 'EMAVG (21)'"}],
 "mark":{"type":"text","font":"Liberation Sans","fontSize":15,"color":"#0c1d30","dx":3,"align":"center","baseline":"middle"},
 "encoding":{
  "x":{"datum":{"year":2025,"month":8,"date":18,"utc":true},"type":"temporal","scale":{"type":"utc","domain":[{"year":2023,"month":7,"date":6,"utc":true},{"year":2025,"month":7,"date":25,"utc":true}]},"axis":null},
  "y":{"field":"v","type":"quantitative","scale":{"domain":[0.5837,0.706],"nice":false,"zero":false},"axis":null},
  "text":{"field":"v","type":"quantitative","format":".4f"}
 }}
],
"resolve":{"axis":{"x":"independent","y":"independent"}}
}
